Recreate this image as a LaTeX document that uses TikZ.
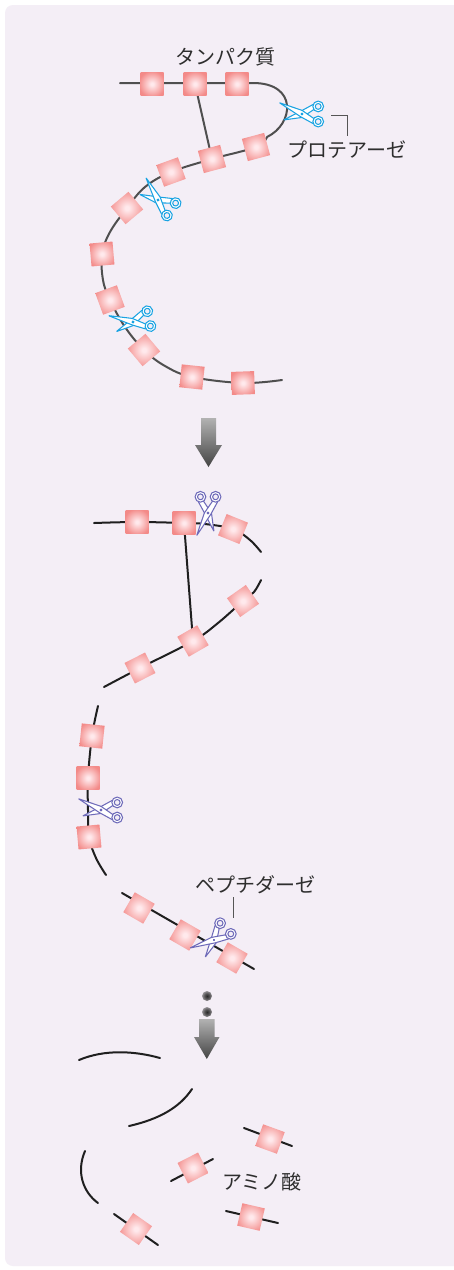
\documentclass[tikz,border=0pt]{standalone}
\usepackage{fontspec}
\newfontfamily\jpfont{Noto Sans CJK JP}
\definecolor{panel}{HTML}{F4EEF6}
\definecolor{sqcore}{HTML}{FFE9EC}
\definecolor{sqedge}{HTML}{F38A88}
\definecolor{chaintop}{HTML}{4F4F4F}
\definecolor{chainmid}{HTML}{1F1F1F}
\definecolor{cutcyan}{HTML}{1AA3E2}
\definecolor{cutviolet}{HTML}{6E6AB9}
\definecolor{labeltext}{HTML}{2E2E2E}
\definecolor{leadergray}{HTML}{555555}
\definecolor{arrowtop}{HTML}{B2B2B2}
\definecolor{arrowbot}{HTML}{444444}
\definecolor{dotgray}{HTML}{2A2A2A}
\pgfdeclareradialshading{glow}{\pgfpoint{0bp}{0bp}}{color(0bp)=(sqcore); color(3bp)=(sqcore); color(29bp)=(sqedge); color(50bp)=(sqedge)}
\pgfdeclareradialshading{speck}{\pgfpoint{0bp}{0bp}}{color(0bp)=(dotgray); color(12bp)=(dotgray!80!panel); color(30bp)=(dotgray!35!panel); color(50bp)=(panel)}
\tikzset{
  residue/.style={draw=none, shading=glow, minimum size=23pt, inner sep=0pt},
  toplink/.style={draw=chaintop, line width=2pt, line cap=round},
  midlink/.style={draw=chainmid, line width=2pt, line cap=round},
  lbl/.style={font=\jpfont\fontsize{20}{23}\selectfont, text=labeltext, inner sep=0pt},
  leader/.style={draw=leadergray, line width=0.8pt},
  pics/shears/.style={code={
    \begin{scope}[scale=1.08, line width=1.05pt, draw=#1, fill=white, line join=round, rounded corners=0.6pt]
      \filldraw (-17,5.5) -- (0,3.2) -- (11,-4.2) -- (10.6,-9) -- (-1,-2.7) -- cycle;
      \filldraw (-21,-10.5) -- (0,-3.4) -- (11,4.2) -- (10.6,9) -- (-1,2.7) -- cycle;
      \filldraw[even odd rule] (15,-7) circle[radius=5] (15,-7) circle[radius=2.7];
      \filldraw[even odd rule] (15,7) circle[radius=5] (15,7) circle[radius=2.7];
      \draw (0,0) circle[radius=0.9];
    \end{scope}
  }}
}
\begin{document}
\begin{tikzpicture}[x=1pt,y=-1pt]
\useasboundingbox (0,0) rectangle (454,1270);
% panel
\fill[white] (0,0) rectangle (454,1270);
\fill[panel, rounded corners=8pt] (5,5) rectangle (470,1266);

% ---------- protein with protease ----------
\foreach \n/\x/\y in {t1/152/84,t2/195/84,t3/237/84,t4/256/147,t5/212/159,t6/171/172,
  t7/127/208,t8/102/254,t9/110/300,t10/144/350,t11/192/377,t12/243/383}
  \coordinate (\n) at (\x,\y);
\coordinate (tstart) at (120,83);
\coordinate (tend) at (282,380);
\draw[toplink] (tstart) -- (253,83) .. controls (298,83) and (294,124) .. (267,137)
  plot[smooth, tension=0.6] coordinates {(267,137) (256,147) (212,159) (171,172) (145,187) (127,208)
   (110,232) (102,254) (103,280) (110,300) (125,327) (144,350) (165,366) (192,377) (243,383) (tend)};
\draw[toplink] (t2) -- (t5);
\foreach \n/\r in {t1/0,t2/0,t3/0,t4/15,t5/15,t6/20,t7/40,t8/5,t9/20,t10/40,t11/-6,t12/2}
  \node[residue, rotate=\r] (s\n) at (\n) {};

\pic (cutA) at (302,114) {shears=cutcyan};
\pic[rotate=-35] (cutB) at (158,200) {shears=cutcyan};
\pic[rotate=12] (cutC) at (133,322) {shears=cutcyan};

\node[lbl] (protein) at (225,57) {タンパク質};
\node[lbl] (protease) at (347,150) {プロテアーゼ};
\coordinate (pfoot) at (331,115);
\coordinate (phead) at (347,136);
\draw[leader] (pfoot) -| (phead);

% ---------- first arrow ----------
\shade[top color=arrowtop, bottom color=arrowbot] (201,418) -- (216,418) -- (216,445) -- (222,445)
  -- (208.5,467) -- (195,445) -- (201,445) -- cycle;

% ---------- fragments with peptidase ----------
\foreach \n/\x/\y in {m1/137/522,m2/184/523,m3/233/529,m4/243/601,m5/193/641,m6/140/668,
  m7/92/736,m8/88/778,m9/89/837,m10/139/908,m11/185/935,m12/232/958}
  \coordinate (\n) at (\x,\y);
\coordinate (f1a) at (94,523);   \coordinate (f1b) at (261,552);
\coordinate (f2a) at (261,580);  \coordinate (f2b) at (104,687);
\coordinate (f3a) at (98,706);   \coordinate (f3b) at (106,875);
\coordinate (f4a) at (122,893);  \coordinate (f4b) at (254,969);
\draw[midlink] plot[smooth, tension=0.6] coordinates {(f1a) (m1) (m2) (205,524) (m3) (250,540) (f1b)};
\draw[midlink] plot[smooth, tension=0.6] coordinates {(f2a) (254,592) (m4) (218,623) (m5) (m6) (f2b)};
\draw[midlink] plot[smooth, tension=0.6] coordinates {(f3a) (m7) (m8) (88,810) (m9) (96,858) (f3b)};
\draw[midlink] (f4a) -- (f4b);
\draw[midlink] (m2) -- (m5);
\foreach \n/\r in {m1/0,m2/0,m3/-22,m4/35,m5/30,m6/27,m7/-6,m8/0,m9/5,m10/-30,m11/-30,m12/-30}
  \node[residue, rotate=\r] (s\n) at (\n) {};

\pic[rotate=90] (cutD) at (208,513) {shears=cutviolet};
\pic (cutE) at (101,810) {shears=cutviolet};
\pic[rotate=45] (cutF) at (214,940) {shears=cutviolet};

\node[lbl] (peptidase) at (255,885) {ペプチダーゼ};
\coordinate (qtop) at (233,897);
\coordinate (qfoot) at (233,918);
\draw[leader] (qtop) -- (qfoot);

% ---------- dots and second arrow ----------
\shade[shading=speck] (207,996) circle[radius=5];
\shade[shading=speck] (207,1012) circle[radius=5];
\shade[top color=arrowtop, bottom color=arrowbot] (199,1019) -- (214.5,1019) -- (214.5,1037) -- (219.5,1037)
  -- (206.8,1059) -- (194,1037) -- (199,1037) -- cycle;

% ---------- peptides and free amino acids ----------
\coordinate (pa1) at (79,1060);  \coordinate (pa2) at (160,1058);
\coordinate (pb1) at (129,1126); \coordinate (pb2) at (192,1089);
\coordinate (pc1) at (85,1151);  \coordinate (pc2) at (98,1203);
\draw[midlink] (pa1) .. controls (105,1049) and (135,1051) .. (pa2);
\draw[midlink] (pb1) .. controls (160,1119) and (180,1107) .. (pb2);
\draw[midlink] (pc1) .. controls (76,1172) and (83,1192) .. (pc2);

\foreach \n/\x/\y in {a1/270/1139,a2/193/1168,a3/136/1229,a4/251/1217}
  \coordinate (\n) at (\x,\y);
\coordinate (a1l) at (244,1128); \coordinate (a1r) at (292,1146);
\coordinate (a2l) at (171,1181); \coordinate (a2r) at (213,1159);
\coordinate (a3l) at (114,1214); \coordinate (a3r) at (158,1245);
\coordinate (a4l) at (226,1211); \coordinate (a4r) at (278,1223);
\draw[midlink] (a1l) -- (a1r);
\draw[midlink] (a2l) -- (a2r);
\draw[midlink] (a3l) -- (a3r);
\draw[midlink] (a4l) -- (a4r);
\foreach \n/\r in {a1/-20,a2/27,a3/-35,a4/-13}
  \node[residue, rotate=\r] (s\n) at (\n) {};

\node[lbl] (amino) at (262,1182) {アミノ酸};
\end{tikzpicture}
\end{document}
